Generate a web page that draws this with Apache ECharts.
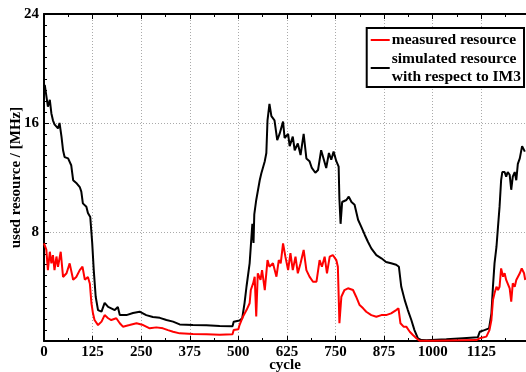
<!DOCTYPE html>
<html>
<head>
<meta charset="utf-8">
<script src="https://cdn.jsdelivr.net/npm/echarts@6/dist/echarts.min.js"></script>
<style>
  html, body { margin: 0; padding: 0; background: #fff; }
  #resource-chart { width: 526px; height: 372px; }
</style>
</head>
<body>
<div id="resource-chart"></div>
<script>
// measured resource (red)
const measuredCycle = [0, 6, 10, 15, 19, 23, 27, 32, 36, 43, 49, 58, 66, 75, 83, 92, 99, 105, 113, 118, 122, 126, 130, 139, 148, 156, 165, 173, 186, 195, 203, 220, 238, 255, 272, 289, 306, 319, 332, 349, 383, 418, 452, 485, 488, 500, 503, 512, 521, 529, 532, 538, 542, 546, 550, 557, 561, 568, 575, 580, 589, 598, 604, 609, 615, 621, 628, 634, 640, 647, 653, 660, 668, 675, 683, 692, 701, 709, 715, 722, 728, 735, 743, 752, 756, 760, 765, 773, 782, 795, 803, 812, 821, 829, 842, 855, 868, 880, 893, 906, 912, 917, 925, 932, 941, 949, 958, 966, 1000, 1112, 1121, 1138, 1146, 1151, 1155, 1159, 1164, 1168, 1172, 1176, 1181, 1185, 1189, 1193, 1198, 1202, 1206, 1211, 1215, 1219, 1224, 1229, 1235, 1238];
const measuredValue = [7.17, 6.7, 5.2, 6.55, 5.7, 6.3, 5.2, 6.2, 5.45, 6.55, 4.7, 4.97, 5.7, 4.5, 4.7, 5.2, 5.45, 4.5, 4.7, 4.2, 2.77, 2.03, 1.54, 1.17, 1.42, 1.9, 1.67, 1.54, 1.67, 1.3, 1.05, 1.17, 1.3, 1.17, 0.93, 1.0, 0.93, 0.8, 0.68, 0.56, 0.51, 0.49, 0.46, 0.49, 0.8, 0.86, 1.17, 1.8, 2.27, 2.77, 3.74, 4.23, 4.72, 1.8, 4.97, 4.48, 5.2, 3.74, 5.94, 5.45, 5.7, 4.72, 5.94, 5.7, 7.17, 6.19, 5.2, 6.44, 5.2, 6.19, 4.97, 5.7, 6.68, 5.2, 4.72, 4.35, 4.35, 5.94, 5.45, 6.19, 4.97, 6.19, 6.31, 5.94, 5.45, 1.3, 3.25, 3.74, 3.87, 3.74, 3.25, 2.64, 2.4, 2.15, 1.9, 1.78, 1.9, 1.9, 2.03, 2.27, 2.4, 1.3, 1.05, 1.05, 0.68, 0.44, 0.2, 0.02, 0.02, 0.07, 0.2, 0.32, 0.8, 1.54, 3.0, 3.5, 3.98, 3.74, 3.98, 5.33, 4.72, 4.97, 4.48, 4.6, 3.87, 2.88, 4.23, 3.98, 4.48, 4.35, 4.97, 5.33, 4.97, 4.48];

// simulated resource with respect to IM3 (black)
const simulatedCycle = [2, 4, 10, 15, 19, 23, 27, 36, 40, 45, 49, 53, 62, 70, 75, 83, 92, 96, 100, 109, 113, 119, 124, 128, 133, 139, 148, 156, 165, 173, 182, 190, 195, 212, 229, 246, 263, 280, 298, 315, 332, 349, 383, 418, 452, 485, 488, 503, 510, 516, 521, 529, 536, 539, 541, 546, 555, 559, 568, 572, 575, 580, 585, 593, 600, 606, 615, 619, 628, 632, 640, 645, 653, 660, 668, 675, 683, 689, 698, 705, 713, 720, 726, 733, 739, 745, 752, 758, 760, 763, 767, 778, 784, 791, 799, 808, 816, 825, 833, 842, 855, 868, 880, 893, 906, 913, 919, 928, 936, 945, 953, 962, 971, 984, 1009, 1035, 1078, 1116, 1121, 1133, 1145, 1151, 1155, 1159, 1164, 1168, 1172, 1176, 1179, 1185, 1189, 1193, 1198, 1202, 1206, 1211, 1215, 1219, 1224, 1230, 1237];
const simulatedValue = [18.8, 18.4, 17.2, 17.7, 16.7, 16.2, 15.9, 15.6, 16.0, 15.0, 14.0, 13.5, 13.4, 12.9, 11.8, 11.6, 11.3, 10.96, 10.1, 9.86, 9.4, 9.1, 7.2, 5.2, 3.25, 2.27, 2.15, 2.8, 2.5, 2.4, 2.27, 2.5, 1.9, 1.9, 2.05, 2.15, 1.9, 1.76, 1.7, 1.54, 1.42, 1.22, 1.17, 1.15, 1.1, 1.08, 1.42, 1.5, 1.67, 2.8, 4.0, 5.7, 8.6, 7.2, 9.3, 10.35, 11.8, 12.3, 13.2, 13.8, 16.2, 17.4, 16.5, 16.2, 14.75, 15.2, 16.1, 14.9, 15.2, 14.3, 15.0, 14.0, 14.5, 13.65, 15.2, 13.4, 13.2, 12.7, 12.35, 12.55, 14.0, 13.3, 12.7, 13.8, 13.3, 13.9, 13.2, 12.8, 10.4, 8.6, 10.2, 10.35, 10.6, 10.2, 10.0, 8.9, 8.4, 7.8, 7.3, 6.8, 6.3, 6.07, 5.8, 5.7, 5.6, 5.45, 4.0, 3.0, 2.27, 1.54, 0.8, 0.2, 0.07, 0.05, 0.1, 0.12, 0.2, 0.27, 0.68, 0.8, 0.93, 2.0, 4.0, 5.7, 6.9, 8.4, 9.86, 11.8, 12.4, 12.4, 12.06, 12.4, 12.2, 11.1, 12.06, 12.4, 11.8, 13.0, 13.4, 14.3, 13.9];

const xTickValues = [0, 125, 250, 375, 500, 625, 750, 875, 1000, 1125];
const yTickValues = [8, 16, 24];

const font = "Liberation Serif";

function zip(xs, ys) {
  return xs.map((x, i) => [x, ys[i]]);
}

let chart = echarts.init(document.getElementById("resource-chart"));

let option = {
  animation: false,
  textStyle: { fontFamily: font },
  grid: { left: 44, right: 0, top: 14, bottom: 31, containLabel: false, outerBoundsMode: "none" },
  legend: {
    data: ["measured resource", "simulated resource\nwith respect to IM3"],
    orient: "vertical",
    right: 2,
    top: 28,
    padding: [3, 3, 1, 4],
    itemGap: 1,
    itemWidth: 19,
    itemHeight: 2,
    icon: "rect",
    borderColor: "#000",
    borderWidth: 2,
    borderRadius: 0,
    backgroundColor: "#fff",
    textStyle: {
      fontFamily: font,
      fontWeight: "bold",
      fontSize: 15.5,
      lineHeight: 18,
      color: "#000",
      padding: [0, 0, 0, -3]
    }
  },
  xAxis: [
    {
      type: "value",
      min: 0,
      max: 1240,
      interval: 125,
      name: "cycle",
      nameLocation: "middle",
      nameGap: 17,
      nameMoveOverlap: false,
      nameTextStyle: { fontFamily: font, fontWeight: "bold", fontSize: 15, color: "#000" },
      axisLine: { lineStyle: { color: "#000", width: 2 } },
      axisTick: { inside: true, length: 5, lineStyle: { color: "#000" } },
      minorTick: { show: true, splitNumber: 2, length: 3, lineStyle: { color: "#000" } },
      axisLabel: {
        margin: 4,
        fontFamily: font,
        fontWeight: "bold",
        fontSize: 15,
        color: "#000",
        formatter: v => (xTickValues.indexOf(v) >= 0 ? String(v) : "")
      },
      splitLine: { show: true, lineStyle: { color: "#aaa", type: [1, 2] } }
    },
    {
      type: "value",
      position: "top",
      min: 0,
      max: 1240,
      interval: 125,
      axisLine: { lineStyle: { color: "#000", width: 2 } },
      axisTick: { inside: true, length: 5, lineStyle: { color: "#000" } },
      minorTick: { show: true, splitNumber: 2, length: 3, lineStyle: { color: "#000" } },
      axisLabel: { show: false },
      splitLine: { show: false }
    }
  ],
  yAxis: {
    type: "value",
    min: 0,
    max: 24,
    interval: 8,
    name: "used resource / [MHz]",
    nameLocation: "middle",
    nameRotate: 90,
    nameGap: 20,
    nameMoveOverlap: false,
    nameTextStyle: { fontFamily: font, fontWeight: "bold", fontSize: 15, color: "#000" },
    axisLine: { show: true, lineStyle: { color: "#000", width: 2 } },
    axisTick: { show: true, inside: true, length: 5, lineStyle: { color: "#000" } },
    minorTick: { show: true, splitNumber: 10, length: 3, lineStyle: { color: "#000" } },
    axisLabel: {
      margin: 5,
      fontFamily: font,
      fontWeight: "bold",
      fontSize: 15,
      color: "#000",
      formatter: v => (yTickValues.indexOf(v) >= 0 ? String(v) : "")
    },
    splitLine: { show: true, lineStyle: { color: "#aaa", type: [1, 2] } }
  },
  series: [
    {
      name: "simulated resource\nwith respect to IM3",
      type: "line",
      symbol: "none",
      lineStyle: { color: "#000", width: 2 },
      itemStyle: { color: "#000" },
      data: zip(simulatedCycle, simulatedValue)
    },
    {
      name: "measured resource",
      type: "line",
      symbol: "none",
      lineStyle: { color: "#ff0000", width: 2 },
      itemStyle: { color: "#ff0000" },
      data: zip(measuredCycle, measuredValue)
    }
  ]
};

chart.setOption(option);
</script>
</body>
</html>
